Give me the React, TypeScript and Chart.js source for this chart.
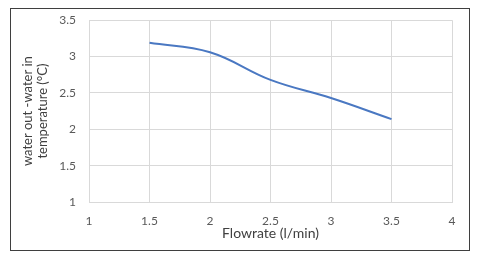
import React, { useEffect, useRef } from "react";
import { Chart, registerables } from "chart.js";

Chart.register(...registerables);

const flowrate = [1.5, 2, 2.5, 3, 3.5];
const deltaT = [3.19, 3.06, 2.68, 2.43, 2.14];
const xTitle = "Flowrate (l/min)";
const yTitle = ["water out -water in", "temperature (°C)"];

const borderPlugin = {
  id: "outerBorder",
  afterDraw(chart: any) {
    const ctx = chart.ctx;
    ctx.save();
    ctx.strokeStyle = "#3f3f3f";
    ctx.lineWidth = 1;
    ctx.strokeRect(10.5, 8.5, 459, 242);
    ctx.restore();
  },
};

const fmt = (v: any) => String(Number(v));

export default function App() {
  const ref = useRef<HTMLCanvasElement | null>(null);
  useEffect(() => {
    document.body.style.margin = "0";
    const font = "Lato, 'Open Sans', sans-serif";
    const chart = new Chart(ref.current as HTMLCanvasElement, {
      type: "line",
      data: {
        datasets: [
          {
            data: flowrate.map((x, i) => ({ x, y: deltaT[i] })),
            borderColor: "#4a78c2",
            borderWidth: 2,
            pointRadius: 0,
            tension: 0.4,
            fill: false,
          },
        ],
      },
      options: {
        animation: false,
        responsive: false,
        layout: { padding: { left: 0, top: 20, right: 28, bottom: 0 } },
        plugins: { legend: { display: false }, tooltip: { enabled: false } },
        scales: {
          x: {
            type: "linear",
            min: 1,
            max: 4,
            afterFit(scale: any) {
              scale.height = 54;
            },
            ticks: {
              stepSize: 0.5,
              padding: 12,
              color: "#595959",
              font: { family: font, size: 12 },
              maxRotation: 0,
              callback: fmt,
            },
            grid: { color: "#d9d9d9", drawTicks: false, lineWidth: 1 },
            border: { color: "#d9d9d9" },
            title: {
              display: true,
              text: xTitle,
              color: "#404040",
              font: { family: font, size: 14 },
              padding: { top: 0, bottom: 14 },
            },
          },
          y: {
            min: 1,
            max: 3.5,
            afterFit(scale: any) {
              scale.width = 89;
            },
            ticks: {
              stepSize: 0.5,
              padding: 13,
              color: "#595959",
              font: { family: font, size: 12 },
              callback: fmt,
            },
            grid: { color: "#d9d9d9", drawTicks: false, lineWidth: 1 },
            border: { color: "#d9d9d9" },
            title: {
              display: true,
              text: yTitle,
              color: "#404040",
              font: { family: font, size: 13, lineHeight: 1.15 },
              padding: { top: 20, bottom: 0 },
            },
          },
        },
      },
      plugins: [borderPlugin],
    });
    return () => chart.destroy();
  }, []);
  return (
    <div style={{ width: 480, height: 256, background: "#fff" }}>
      <canvas ref={ref} width={480} height={256} style={{ display: "block" }} />
    </div>
  );
}
